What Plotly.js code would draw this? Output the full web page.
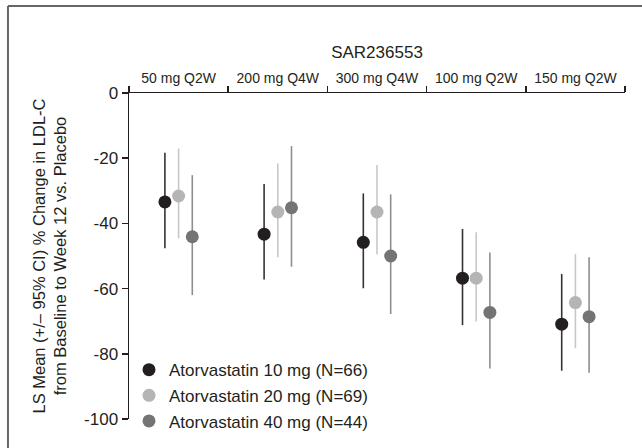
<!DOCTYPE html>
<html>
<head>
<meta charset="utf-8">
<script src="https://cdn.plot.ly/plotly-3.0.1.min.js"></script>
<style>html,body{margin:0;padding:0;background:#fff;}#chart{width:642px;height:448px;}</style>
</head>
<body>
<div id="chart"></div>
<script>
var categories = ["50 mg Q2W", "200 mg Q4W", "300 mg Q4W", "100 mg Q2W", "150 mg Q2W"];
var seriesNames = ["Atorvastatin 10 mg (N=66)", "Atorvastatin 20 mg (N=69)", "Atorvastatin 40 mg (N=44)"];
var mean10 = [-33.4, -43.3, -45.8, -56.8, -70.9];
var upper10 = [-18.3, -27.9, -30.8, -41.7, -55.5];
var lower10 = [-47.6, -57.2, -59.9, -71.2, -85.2];
var mean20 = [-31.6, -36.5, -36.5, -56.8, -64.3];
var upper20 = [-17.0, -21.6, -22.1, -42.7, -49.4];
var lower20 = [-44.6, -50.4, -49.5, -70.1, -78.3];
var mean40 = [-44.1, -35.2, -50.0, -67.3, -68.6];
var upper40 = [-25.2, -16.3, -31.1, -48.9, -50.4];
var lower40 = [-62.0, -53.3, -67.8, -84.5, -85.8];
var yTickVals = [0, -20, -40, -60, -80, -100];
var yTickText = ["0", "-20", "-40", "-60", "-80", "-100"];

var markerColors = ["#231f20", "#b5b5b7", "#747476"];
var barColors = ["#333333", "#c8c8c8", "#8e8e8e"];
var means = [mean10, mean20, mean40];
var uppers = [upper10, upper20, upper40];
var lowers = [lower10, lower20, lower40];

var traces = means.map(function (m, s) {
  return {
    type: "scatter",
    mode: "markers",
    name: seriesNames[s],
    legendgroup: "g" + s,
    x: categories,
    y: m,
    offsetgroup: String(s),
    marker: {color: markerColors[s], size: 13},
    error_y: {
      type: "data",
      symmetric: false,
      array: m.map(function (v, i) { return uppers[s][i] - v; }),
      arrayminus: m.map(function (v, i) { return v - lowers[s][i]; }),
      color: barColors[s],
      thickness: 1.6,
      width: 0
    }
  };
});

var font = "'Liberation Sans', Arial, Helvetica, sans-serif";
var ink = "#231f20";

var layout = {
  width: 642,
  height: 448,
  margin: {l: 129, r: 17, t: 93, b: 29, autoexpand: false},
  paper_bgcolor: "#fff",
  plot_bgcolor: "#fff",
  font: {family: font, color: ink, size: 16},
  showlegend: true,
  scattermode: "group",
  scattergap: 0.586,
  legend: {
    x: 0.0, y: 0.205, xanchor: "left", yanchor: "top",
    font: {size: 17, color: ink},
    bgcolor: "rgba(0,0,0,0)",
    traceorder: "grouped",
    tracegroupgap: 0.5,
    itemwidth: 30
  },
  xaxis: {
    type: "category",
    side: "top",
    automargin: false,
    range: [-0.5, 4.5],
    showline: true, linecolor: ink, linewidth: 1.5,
    ticks: "outside", ticklen: 6, tickwidth: 1.5, tickcolor: ink,
    tickson: "boundaries",
    ticklabelstandoff: 3,
    tickfont: {size: 14, color: ink},
    showgrid: false, zeroline: false,
    title: {text: "SAR236553", font: {size: 17, color: ink}, standoff: 7}
  },
  yaxis: {
    automargin: false,
    range: [-100, 0],
    tickmode: "array", tickvals: yTickVals, ticktext: yTickText,
    showline: true, linecolor: ink, linewidth: 1.5,
    ticks: "outside", ticklen: 6, tickwidth: 1.5, tickcolor: ink,
    tickfont: {size: 17, color: ink},
    showgrid: false, zeroline: false,
    title: {text: "LS Mean (+/– 95% CI) % Change in LDL-C<br>from Baseline to Week 12 vs. Placebo", font: {size: 16.5, color: ink}, standoff: 13}
  },
  shapes: [
    {type: "line", xref: "paper", yref: "paper", x0: -0.244, x1: 1.04, y0: 1.267, y1: 1.267, line: {color: "#666", width: 2}},
    {type: "line", xref: "paper", yref: "paper", x0: -0.244, x1: -0.244, y0: 1.267, y1: -0.1, line: {color: "#666", width: 2}}
  ]
};

Plotly.newPlot("chart", traces, layout, {displayModeBar: false, staticPlot: true});
</script>
</body>
</html>
